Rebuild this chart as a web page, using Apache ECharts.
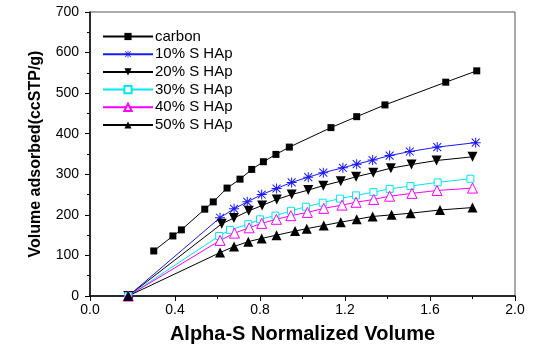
<!DOCTYPE html>
<html>
<head>
<meta charset="utf-8">
<script src="https://cdn.jsdelivr.net/npm/echarts@6/dist/echarts.min.js"></script>
<style>
  html, body { margin: 0; padding: 0; background: #fff; }
  #chart { width: 534px; height: 349px; }
</style>
</head>
<body>
<div id="chart"></div>
<script>
// Alpha-S plots: [normalized volume, volume adsorbed (ccSTP/g)]
const carbon = [[0.30,111],[0.39,148],[0.43,163],[0.54,214],[0.58,232],[0.645,266],[0.706,288],[0.761,312],[0.816,331],[0.875,349],[0.938,367],[1.134,415],[1.255,442],[1.388,471],[1.674,527],[1.82,555]];
const hap10 = [[0.18,0],[0.612,193],[0.678,215],[0.74,232],[0.808,250],[0.878,265],[0.949,280],[1.027,293],[1.098,304],[1.19,316],[1.255,325],[1.33,335],[1.41,346],[1.505,356],[1.634,367],[1.815,378]];
const hap20 = [[0.18,0],[0.62,178],[0.677,192],[0.747,210],[0.81,223],[0.879,238],[0.949,250],[1.027,261],[1.098,272],[1.18,283],[1.252,294],[1.333,304],[1.416,315],[1.513,324],[1.631,334],[1.80,343]];
const hap30 = [[0.18,0],[0.608,148],[0.659,163],[0.745,177],[0.80,189],[0.873,198],[0.946,210],[1.016,220],[1.095,230],[1.176,240],[1.252,248],[1.334,256],[1.41,264],[1.508,271],[1.636,280],[1.79,289]];
const hap40 = [[0.18,0],[0.612,137],[0.68,155],[0.749,168],[0.808,179],[0.877,189],[0.945,198],[1.023,206],[1.10,216],[1.186,224],[1.252,231],[1.335,238],[1.41,246],[1.515,253],[1.633,260],[1.80,266]];
const hap50 = [[0.18,0],[0.612,107],[0.678,122],[0.745,134],[0.808,142],[0.878,150],[0.965,160],[1.02,166],[1.10,174],[1.18,182],[1.255,189],[1.33,196],[1.419,200],[1.509,204],[1.647,212],[1.80,218]];

const seriesNames = ['carbon', '10% S HAp', '20% S HAp', '30% S HAp', '40% S HAp', '50% S HAp'];
const xTicks = { min: 0, max: 2, step: 0.4 };
const yTicks = { min: 0, max: 700, step: 100 };

const asterisk = 'path://M4.5,0 H5.5 V10 H4.5 Z M0,4.5 H10 V5.5 H0 Z M0.7,1.4 L1.4,0.7 L9.3,8.6 L8.6,9.3 Z M8.6,0.7 L9.3,1.4 L1.4,9.3 L0.7,8.6 Z';
const downTriangle = 'path://M0,0 L10,0 L5,9 Z';
const upTriangle = 'path://M5,0 L10,9 L0,9 Z';

const FONT = 'Arial, "Liberation Sans", sans-serif';

function lineSeries(name, data, color, symbol, size, fill) {
  return {
    name: name,
    type: 'line',
    data: data,
    symbol: symbol,
    symbolSize: size,
    showAllSymbol: true,
    lineStyle: { color: color, width: 1 },
    itemStyle: { color: fill || color, borderColor: color, borderWidth: fill ? 1 : 0 },
    emphasis: { disabled: true },
    animation: false,
    z: 3
  };
}

const chart = echarts.init(document.getElementById('chart'), null, { renderer: 'canvas' });
chart.setOption({
  backgroundColor: '#fff',
  animation: false,
  grid: {
    left: 90, right: 19, top: 12, bottom: 53,
    show: true, borderColor: '#555', borderWidth: 1, backgroundColor: 'transparent'
  },
  legend: {
    left: 102, top: 29, padding: 0,
    orient: 'vertical',
    itemWidth: 50, itemHeight: 9, itemGap: 2.7,
    textStyle: { fontFamily: FONT, fontSize: 15, lineHeight: 15, color: '#000', padding: [0, 0, 0, -3] },
    data: seriesNames
  },
  xAxis: {
    type: 'value',
    min: xTicks.min, max: xTicks.max, interval: xTicks.step,
    name: 'Alpha-S Normalized Volume',
    nameLocation: 'middle', nameGap: 28,
    nameTextStyle: { fontFamily: FONT, fontSize: 20, fontWeight: 'bold', color: '#000' },
    axisLine: { lineStyle: { color: '#000', width: 1.5 } },
    axisTick: { show: true, inside: false, length: 5, lineStyle: { color: '#000', width: 1 } },
    minorTick: { show: true, splitNumber: 2, length: 3, lineStyle: { color: '#000' } },
    splitLine: { show: false },
    axisLabel: {
      fontFamily: FONT, fontSize: 14, color: '#000', margin: 7,
      formatter: v => v.toFixed(1)
    }
  },
  yAxis: {
    type: 'value',
    min: yTicks.min, max: yTicks.max, interval: yTicks.step,
    name: 'Volume adsorbed(ccSTP/g)',
    nameLocation: 'middle', nameGap: 46, nameRotate: 90,
    nameTextStyle: { fontFamily: FONT, fontSize: 16, fontWeight: 'bold', color: '#000' },
    axisLine: { show: true, lineStyle: { color: '#000', width: 1.5 } },
    axisTick: { show: true, inside: false, length: 5, lineStyle: { color: '#000', width: 1 } },
    minorTick: { show: true, splitNumber: 2, length: 3, lineStyle: { color: '#000' } },
    splitLine: { show: false },
    axisLabel: { fontFamily: FONT, fontSize: 14, color: '#000', margin: 11 }
  },
  series: [
    lineSeries(seriesNames[0], carbon, '#000000', 'rect', 7),
    lineSeries(seriesNames[1], hap10, '#1a1aff', asterisk, 10),
    lineSeries(seriesNames[2], hap20, '#000000', downTriangle, 10),
    lineSeries(seriesNames[3], hap30, '#00e5ee', 'rect', 7, '#ffffff'),
    lineSeries(seriesNames[4], hap40, '#ff00ff', upTriangle, 10, '#ffffff'),
    lineSeries(seriesNames[5], hap50, '#000000', upTriangle, 10)
  ]
});
</script>
</body>
</html>
